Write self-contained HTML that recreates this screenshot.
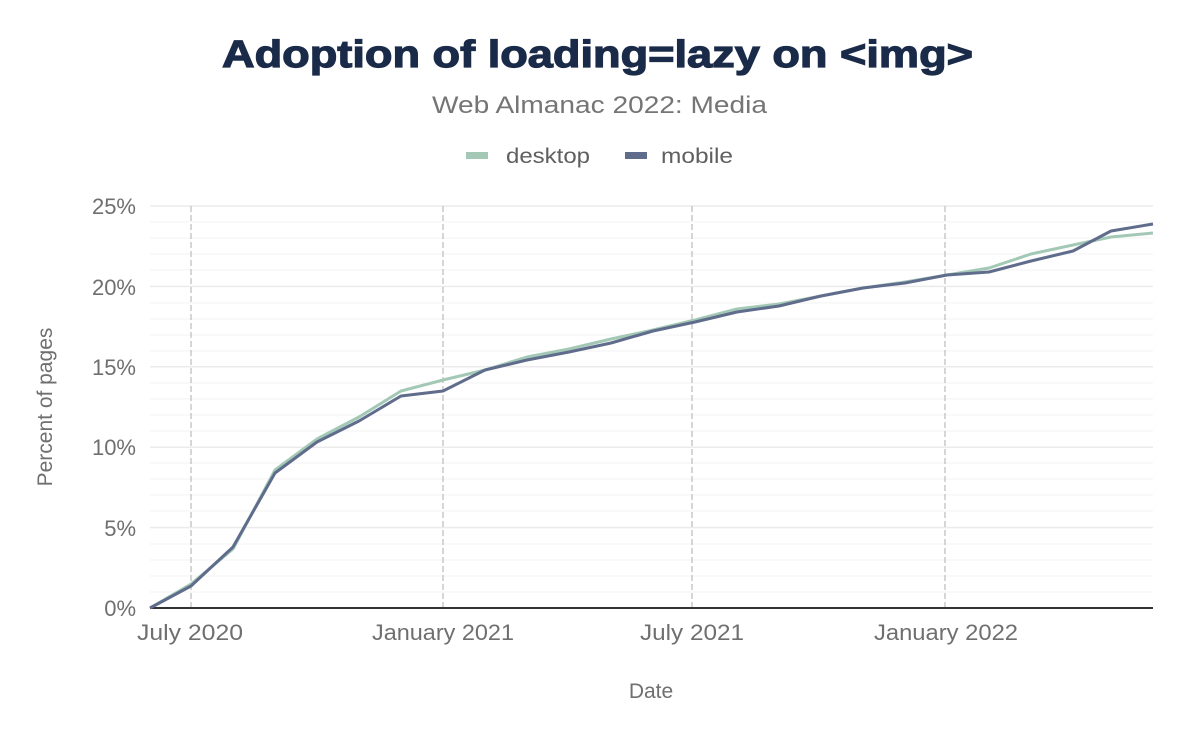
<!DOCTYPE html>
<html><head><meta charset="utf-8"><style>
body{margin:0;background:#fff;width:1200px;height:742px;overflow:hidden;font-family:"Liberation Sans",sans-serif}
</style></head><body>
<svg width="1200" height="742" xmlns="http://www.w3.org/2000/svg" font-family="Liberation Sans, sans-serif">
<text x="222" y="67" textLength="751" lengthAdjust="spacingAndGlyphs" font-size="38" font-weight="bold" fill="#1a2b49" stroke="#1a2b49" stroke-width="1.2">Adoption of loading=lazy on &lt;img&gt;</text>
<text x="432" y="113" textLength="335" lengthAdjust="spacingAndGlyphs" font-size="24" fill="#757575">Web Almanac 2022: Media</text>
<rect x="466" y="152" width="22" height="7" fill="#a3c9b6"/>
<text x="506" y="163" textLength="84" lengthAdjust="spacingAndGlyphs" font-size="21" fill="#5f5f5f">desktop</text>
<rect x="625" y="152" width="22" height="7" fill="#606c8c"/>
<text x="661" y="163" textLength="72" lengthAdjust="spacingAndGlyphs" font-size="21" fill="#5f5f5f">mobile</text>
<g stroke="#f3f3f3" stroke-width="1">
<line x1="150" x2="1153" y1="592" y2="592"/><line x1="150" x2="1153" y1="576" y2="576"/><line x1="150" x2="1153" y1="560" y2="560"/><line x1="150" x2="1153" y1="544" y2="544"/>
<line x1="150" x2="1153" y1="511" y2="511"/><line x1="150" x2="1153" y1="495" y2="495"/><line x1="150" x2="1153" y1="479" y2="479"/><line x1="150" x2="1153" y1="463" y2="463"/>
<line x1="150" x2="1153" y1="431" y2="431"/><line x1="150" x2="1153" y1="415" y2="415"/><line x1="150" x2="1153" y1="399" y2="399"/><line x1="150" x2="1153" y1="383" y2="383"/>
<line x1="150" x2="1153" y1="351" y2="351"/><line x1="150" x2="1153" y1="335" y2="335"/><line x1="150" x2="1153" y1="319" y2="319"/><line x1="150" x2="1153" y1="303" y2="303"/>
<line x1="150" x2="1153" y1="270" y2="270"/><line x1="150" x2="1153" y1="254" y2="254"/><line x1="150" x2="1153" y1="238" y2="238"/><line x1="150" x2="1153" y1="222" y2="222"/>
</g>
<g stroke="#ebebeb" stroke-width="1.5">
<line x1="150" x2="1153" y1="527.6" y2="527.6"/><line x1="150" x2="1153" y1="447.2" y2="447.2"/><line x1="150" x2="1153" y1="366.8" y2="366.8"/><line x1="150" x2="1153" y1="286.4" y2="286.4"/><line x1="150" x2="1153" y1="206" y2="206"/>
</g>
<g stroke="#c8c8c8" stroke-width="1.5" stroke-dasharray="6,3">
<line x1="191" x2="191" y1="206" y2="608"/><line x1="443" x2="443" y1="206" y2="608"/><line x1="692" x2="692" y1="206" y2="608"/><line x1="945" x2="945" y1="206" y2="608"/>
</g>
<line x1="150" x2="1153" y1="608" y2="608" stroke="#333" stroke-width="2"/>
<g font-size="22" fill="#6f6f6f" text-anchor="end">
<text x="136" y="616">0%</text><text x="136" y="536">5%</text><text x="136" y="455">10%</text><text x="136" y="375">15%</text><text x="136" y="295">20%</text><text x="136" y="214">25%</text>
</g>
<g font-size="22" fill="#6f6f6f">
<text x="137" y="640" textLength="106" lengthAdjust="spacingAndGlyphs">July 2020</text>
<text x="372" y="640" textLength="142" lengthAdjust="spacingAndGlyphs">January 2021</text>
<text x="640" y="640" textLength="104" lengthAdjust="spacingAndGlyphs">July 2021</text>
<text x="874" y="640" textLength="144" lengthAdjust="spacingAndGlyphs">January 2022</text>
</g>
<text x="651" y="698" text-anchor="middle" font-size="21" fill="#6f6f6f">Date</text>
<text transform="translate(52,407) rotate(-90)" text-anchor="middle" font-size="21" fill="#6f6f6f">Percent of pages</text>
<polyline fill="none" stroke="#a3c9b6" stroke-width="3" stroke-linejoin="round" points="150,608 191,584 233,549 275,470 317,439 359,417 401,391 443,380 485,370 527,357 569,349 611,339 653,330 695,320 737,309 779,304 821,296 863,288 905,282 947,275 989,268 1031,254 1073,245 1111,237 1153,233"/>
<polyline fill="none" stroke="#606c8c" stroke-width="3" stroke-linejoin="round" points="150,608 191,586 233,547 275,473 317,442 359,421 401,396 443,391 485,370 527,360 569,352 611,343 653,331 695,322 737,312 779,306 821,296 863,288 905,283 947,275 989,272 1031,261 1073,251 1111,231 1153,224"/>
</svg>
</body></html>
